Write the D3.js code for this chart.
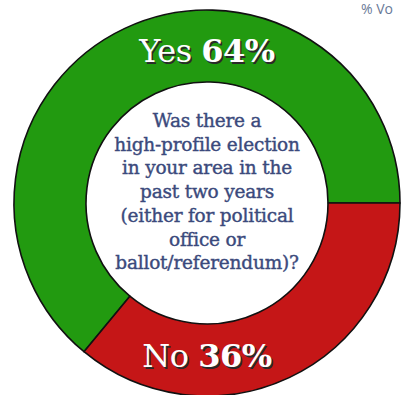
<!DOCTYPE html>
<html>
<head>
<meta charset="utf-8">
<script src="https://cdn.jsdelivr.net/npm/d3@7"></script>
<style>
  html, body { margin: 0; padding: 0; background: #fff; }
  svg { display: block; }
</style>
</head>
<body>
<svg width="401" height="395"></svg>
<script>
var categories = ["Yes", "No"];
var values = [64, 36];
var valueLabels = ["64%", "36%"];
var colors = ["#229a10", "#c51617"];
var question = [
  "Was there a",
  "high-profile election",
  "in your area in the",
  "past two years",
  "(either for political",
  "office or",
  "ballot/referendum)?"
];
var cornerLabel = "% Vo";

var svg = d3.select("svg");
var cx = 207, cy = 203;
var outerR = 193, innerR = 121;

var g = svg.append("g")
  .attr("transform", "translate(" + cx + "," + cy + ")");

// the "No" slice begins at 3 o'clock and runs clockwise
var start = Math.PI / 2 - 2 * Math.PI * values[0] / d3.sum(values);
var pie = d3.pie().sort(null).startAngle(start).endAngle(start + 2 * Math.PI);
var arc = d3.arc().innerRadius(innerR).outerRadius(outerR);

var arcs = pie(values);

g.selectAll(".slice")
  .data(arcs)
  .enter().append("path")
  .attr("class", "slice")
  .attr("d", arc)
  .attr("fill", function(d, i) { return colors[i]; })
  .attr("stroke", "#111")
  .attr("stroke-width", 1.6)
  .attr("stroke-linejoin", "round");

// labels on the ring
var labelPos = [{y: -141}, {y: 164}];
arcs.forEach(function(d, i) {
  var lab = g.append("g").attr("transform", "translate(0," + labelPos[i].y + ")");
  [["#2a2a2a", 1.5], ["#fff", 0]].forEach(function(s) {
    var t = lab.append("text")
      .attr("x", s[1])
      .attr("y", s[1])
      .attr("text-anchor", "middle")
      .attr("font-family", "DejaVu Serif")
      .attr("font-size", 32)
      .attr("letter-spacing", -0.5)
      .attr("fill", s[0]);
    t.append("tspan").text(categories[i] + " ");
    t.append("tspan").attr("font-weight", "bold").text(valueLabels[i]);
  });
});

// question in the middle
var q = g.append("text")
  .attr("text-anchor", "middle")
  .attr("font-family", "DejaVu Serif")
  .attr("font-size", 18.5)
  .attr("letter-spacing", -0.2)
  .attr("fill", "#3b4a7c")
  .attr("stroke", "#3b4a7c")
  .attr("stroke-width", 0.4);

q.selectAll("tspan")
  .data(question)
  .enter().append("tspan")
  .attr("x", 0)
  .attr("y", function(d, i) { return -76 + i * 23.7; })
  .text(function(d) { return d; });

svg.append("text")
  .attr("x", 361)
  .attr("y", 14)
  .attr("font-family", "Open Sans")
  .attr("font-size", 14)
  .attr("fill", "#6a7a98")
  .text(cornerLabel);
</script>
</body>
</html>
